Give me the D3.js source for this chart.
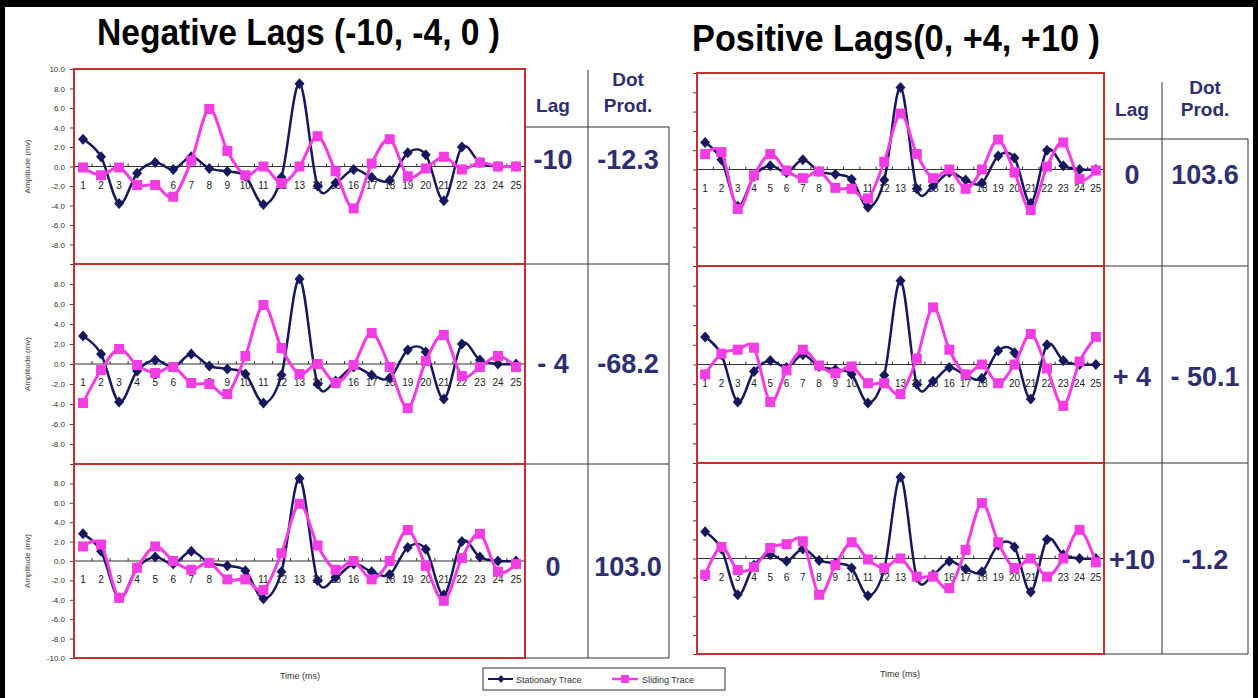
<!DOCTYPE html>
<html>
<head>
<meta charset="utf-8">
<script src="https://cdn.jsdelivr.net/npm/d3@7"></script>
<style>
  body { margin: 0; background: #fff; }
  svg { display: block; }
  text { font-family: "Liberation Sans", Arial, sans-serif; }
</style>
</head>
<body>
<svg id="chart" width="1258" height="698"></svg>
<script>
// Sample positions (ms) shared by every trace
const categories = [1, 2, 3, 4, 5, 6, 7, 8, 9, 10, 11, 12, 13, 14, 15, 16, 17, 18, 19, 20, 21, 22, 23, 24, 25];

// Fixed reference signal (mV)
const stationary = [2.8, 1.0, -3.8, -0.7, 0.4, -0.3, 1.0, -0.2, -0.5, -1.0, -3.9, -1.1, 8.5, -2.0, -1.7, -0.3, -1.1, -1.4, 1.4, 1.2, -3.5, 2.0, 0.4, 0.0, 0.0];

// Sliding signal at each lag (mV)
const slidingLagM10 = [-0.1, -0.9, -0.1, -1.9, -1.9, -3.1, 0.6, 5.9, 1.6, -0.9, 0.0, -1.7, 0.0, 3.1, -0.5, -4.3, 0.3, 2.8, -1.0, -0.2, 1.0, -0.3, 0.4, 0.0, 0.0];
const slidingLagM4 = [-3.9, -0.6, 1.5, -0.1, -0.9, -0.3, -1.9, -2.0, -3.0, 0.8, 5.9, 1.6, -1.0, 0.0, -1.9, -0.1, 3.1, -0.3, -4.4, 0.3, 2.9, -1.2, -0.3, 0.8, -0.3];
const slidingLag0Neg = [1.5, 1.7, -3.8, -0.7, 1.5, 0.0, -0.9, -0.2, -1.9, -1.9, -3.0, 0.8, 5.9, 1.6, -0.9, 0.0, -1.9, 0.0, 3.2, -0.5, -4.1, 0.3, 2.8, -1.1, -0.3];
const slidingLag0Pos = [1.6, 1.8, -4.1, -0.6, 1.6, -0.1, -0.9, -0.2, -1.9, -2.0, -3.0, 0.8, 5.8, 1.6, -0.9, 0.0, -2.0, 0.0, 3.1, -0.3, -4.2, 0.3, 2.8, -1.0, -0.1];
const slidingLagP4 = [-1.0, 1.1, 1.5, 1.7, -3.8, -0.6, 1.5, -0.1, -0.9, -0.2, -1.9, -1.9, -3.0, 0.6, 5.8, 1.5, -1.0, 0.0, -1.9, 0.0, 3.1, -0.4, -4.2, 0.3, 2.8];
const slidingLagP10 = [-1.7, 1.2, -1.2, -0.9, 1.1, 1.5, 1.8, -3.8, -0.7, 1.7, -0.1, -1.0, 0.0, -1.9, -1.9, -3.1, 0.9, 5.8, 1.7, -1.0, 0.0, -1.9, 0.0, 3.0, -0.4];

// Table contents
const lagLabelsNeg = ["-10", "- 4", "0"];
const dotProdNeg = ["-12.3", "-68.2", "103.0"];
const lagLabelsPos = ["0", "+ 4", "+10"];
const dotProdPos = ["103.6", "- 50.1", "-1.2"];

// Axis ticks and text
const yTickValues = [10, 8, 6, 4, 2, 0, -2, -4, -6, -8, -10];
const titles = ["Negative Lags (-10, -4, 0 )", "Positive Lags(0, +4, +10 )"];
const seriesNames = ["Stationary Trace", "Sliding Trace"];
const yAxisTitle = "Amplitude (mv)";
const xAxisTitle = "Time (ms)";

const NAVY = "#17175e";
const PINK = "#f23ce4";
const RED = "#c7302c";
const INK = "#2d2f70";

const svg = d3.select("#chart");
svg.append("rect").attr("width", 1258).attr("height", 698).attr("fill", "#fff");

const columns = [
  {
    x0: 74, x1: 525, edges: [69, 264, 464, 658], showYLabels: true,
    sliding: [slidingLagM10, slidingLagM4, slidingLag0Neg],
    table: { colX: [525, 588, 669], headY: 127, topY: 70, lags: lagLabelsNeg, dots: dotProdNeg,
             lagX: 553, dotX: 628, headBase: [86, 112], valBase: [169, 373, 576] },
    title: { x: 97, w: 403, base: 45 },
    xTitle: { x: 300, base: 679 }
  },
  {
    x0: 697, x1: 1104, edges: [73, 266, 463, 654], showYLabels: false,
    sliding: [slidingLag0Pos, slidingLagP4, slidingLagP10],
    table: { colX: [1104, 1162, 1248], headY: 139, topY: 82, lags: lagLabelsPos, dots: dotProdPos,
             lagX: 1132, dotX: 1205, headBase: [94, 116], valBase: [184, 386, 569] },
    title: { x: 692, w: 408, base: 51 },
    xTitle: { x: 900, base: 677 }
  }
];

const fmt = d => d.toFixed(1);

function drawPanel(g, col, row) {
  const top = col.edges[row], bottom = col.edges[row + 1];
  const x = d3.scalePoint().domain(categories).range([col.x0, col.x1]).padding(0.5);
  const y = d3.scaleLinear().domain([-10, 10]).range([bottom, top]);
  const step = x.step();

  g.append("rect").attr("x", col.x0).attr("y", top)
    .attr("width", col.x1 - col.x0).attr("height", bottom - top).attr("fill", "#fff");

  // value axis on the left edge
  const yAxis = d3.axisLeft(y).tickValues(yTickValues).tickSize(4).tickPadding(5)
    .tickFormat(d => {
      if (!col.showYLabels) return "";
      if (d === 10 && row > 0) return "";
      if (d === -10 && row < 2) return "";
      return fmt(d);
    });
  const ya = g.append("g").attr("transform", `translate(${col.x0},0)`).call(yAxis);
  ya.select(".domain").attr("stroke", "#444");
  ya.selectAll(".tick line").attr("stroke", "#444");
  ya.selectAll(".tick text").attr("fill", "#333").style("font-size", "8px")
    .style("font-family", "'Liberation Sans', Arial, sans-serif");

  // category axis crossing at zero
  const y0 = y(0);
  g.append("line").attr("x1", col.x0).attr("x2", col.x1).attr("y1", y0).attr("y2", y0)
    .attr("stroke", "#333").attr("stroke-width", 1);
  g.append("g").selectAll("line").data(categories.slice(1)).join("line")
    .attr("x1", d => x(d) - step / 2).attr("x2", d => x(d) - step / 2)
    .attr("y1", y0 - 3).attr("y2", y0)
    .attr("stroke", "#333");
  g.append("g").selectAll("text").data(categories).join("text")
    .attr("x", d => x(d)).attr("y", y0 + 22)
    .attr("text-anchor", "middle").attr("fill", "#222")
    .style("font-size", "10px").text(d => d);

  // smoothed traces
  const line = d3.line().x((d, i) => x(categories[i])).y(d => y(d))
    .curve(d3.curveCardinal.tension(0));

  // stationary trace
  g.append("path").datum(stationary).attr("d", line)
    .attr("fill", "none").attr("stroke", NAVY).attr("stroke-width", 2.5);
  g.append("g").selectAll("path").data(stationary).join("path")
    .attr("d", (d, i) => {
      const cx = x(categories[i]), cy = y(d);
      return `M${cx},${cy - 5.5}L${cx + 5},${cy}L${cx},${cy + 5.5}L${cx - 5},${cy}Z`;
    })
    .attr("fill", NAVY);

  // sliding trace
  const s = col.sliding[row];
  g.append("path").datum(s).attr("d", line)
    .attr("fill", "none").attr("stroke", PINK).attr("stroke-width", 3);
  g.append("g").selectAll("rect").data(s).join("rect")
    .attr("x", (d, i) => x(categories[i]) - 5).attr("y", d => y(d) - 5)
    .attr("width", 10).attr("height", 10).attr("fill", PINK);

  // plot border
  g.append("rect").attr("x", col.x0).attr("y", top)
    .attr("width", col.x1 - col.x0).attr("height", bottom - top)
    .attr("fill", "none").attr("stroke", RED).attr("stroke-width", 2);

  if (col.showYLabels) {
    const cy = (top + bottom) / 2;
    g.append("text").attr("transform", `translate(30,${cy}) rotate(-90)`)
      .attr("text-anchor", "middle").attr("fill", "#444")
      .style("font-size", "8px").text(yAxisTitle);
  }
}

columns.forEach(col => {
  const g = svg.append("g");
  [0, 1, 2].forEach(r => drawPanel(g.append("g"), col, r));

  // lag / dot product table
  const t = col.table;
  const tg = g.append("g").attr("stroke", "#333").attr("stroke-width", 1);
  tg.append("line").attr("x1", t.colX[1]).attr("x2", t.colX[1]).attr("y1", t.topY).attr("y2", col.edges[3]);
  tg.append("line").attr("x1", t.colX[2]).attr("x2", t.colX[2]).attr("y1", t.headY).attr("y2", col.edges[3]);
  tg.append("line").attr("x1", t.colX[0]).attr("x2", t.colX[2]).attr("y1", t.headY).attr("y2", t.headY);
  [1, 2, 3].forEach(k => {
    tg.append("line").attr("x1", t.colX[0]).attr("x2", t.colX[2])
      .attr("y1", col.edges[k]).attr("y2", col.edges[k]);
  });

  const head = g.append("g").attr("fill", INK).attr("font-weight", "bold")
    .attr("text-anchor", "middle").style("font-size", "19px");
  head.append("text").attr("x", t.lagX).attr("y", t.headBase[1]).text("Lag");
  head.append("text").attr("x", t.dotX).attr("y", t.headBase[0]).text("Dot");
  head.append("text").attr("x", t.dotX).attr("y", t.headBase[1]).text("Prod.");

  const vals = g.append("g").attr("fill", INK).attr("font-weight", "bold")
    .attr("text-anchor", "middle").style("font-size", "27px");
  t.lags.forEach((v, i) => vals.append("text").attr("x", t.lagX).attr("y", t.valBase[i]).text(v));
  t.dots.forEach((v, i) => vals.append("text").attr("x", t.dotX).attr("y", t.valBase[i]).text(v));

  g.append("text").attr("x", col.xTitle.x).attr("y", col.xTitle.base)
    .attr("text-anchor", "middle").attr("fill", "#333").style("font-size", "9px").text(xAxisTitle);
});

// headings
columns.forEach((col, i) => {
  svg.append("text").attr("x", col.title.x).attr("y", col.title.base)
    .attr("textLength", col.title.w).attr("lengthAdjust", "spacingAndGlyphs")
    .attr("font-weight", "bold").attr("fill", "#000").style("font-size", "36px")
    .text(titles[i]);
});

// legend
const lg = svg.append("g").attr("transform", "translate(483,668)");
lg.append("rect").attr("width", 242).attr("height", 22).attr("fill", "#fff")
  .attr("stroke", "#333").attr("stroke-width", 1);
lg.append("line").attr("x1", 5).attr("x2", 30).attr("y1", 11).attr("y2", 11).attr("stroke", NAVY).attr("stroke-width", 2);
lg.append("path").attr("d", "M18,7L21.5,11L18,15L14.5,11Z").attr("fill", NAVY);
lg.append("text").attr("x", 33).attr("y", 14.5).attr("fill", "#333").style("font-size", "9px").text(seriesNames[0]);
lg.append("line").attr("x1", 129).attr("x2", 155).attr("y1", 11).attr("y2", 11).attr("stroke", PINK).attr("stroke-width", 2.5);
lg.append("rect").attr("x", 138).attr("y", 7).attr("width", 8).attr("height", 8).attr("fill", PINK);
lg.append("text").attr("x", 159).attr("y", 14.5).attr("fill", "#333").style("font-size", "9px").text(seriesNames[1]);

// outer frame
const frame = svg.append("g").attr("fill", "#000");
frame.append("rect").attr("x", 0).attr("y", 0).attr("width", 1258).attr("height", 7);
frame.append("rect").attr("x", 0).attr("y", 0).attr("width", 5).attr("height", 698);
frame.append("rect").attr("x", 1253).attr("y", 0).attr("width", 5).attr("height", 698);
</script>
</body>
</html>
